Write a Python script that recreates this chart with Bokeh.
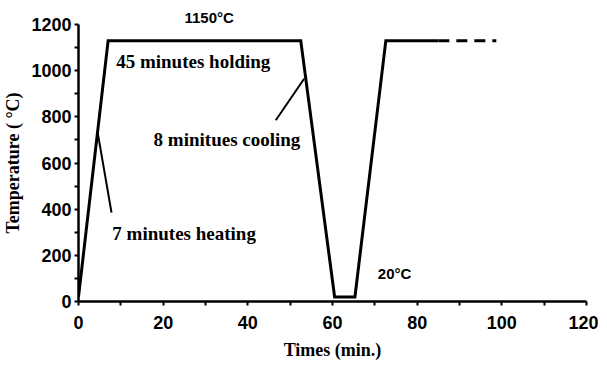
from bokeh.plotting import figure
from bokeh.models import Range1d, Label, FixedTicker, Title
from bokeh.embed import file_html
from bokeh.resources import INLINE

# Thermal cycle profile (time in min, temperature in °C)
time_solid = [0, 7, 52.5, 60.5, 65.3, 72.6, 85]
temp_solid = [20, 1130, 1130, 20, 20, 1130, 1130]
time_dash = [85, 98.7]
temp_dash = [1130, 1130]

# leader lines for annotations
heat_leader_x = [4.5, 7.8]
heat_leader_y = [735, 385]
cool_leader_x = [53.3, 46.6]
cool_leader_y = [965, 785]

x_ticks = [0, 20, 40, 60, 80, 100, 120]
y_ticks = [0, 200, 400, 600, 800, 1000, 1200]

serif = "Liberation Serif"
sans = "Liberation Sans"

p = figure(frame_width=508, frame_height=277,
           min_border_left=70, min_border_top=24, min_border_right=12, min_border_bottom=64,
           x_range=Range1d(0, 120), y_range=Range1d(0, 1200),
           output_backend="svg", toolbar_location=None)

p.outline_line_color = None
p.xgrid.grid_line_color = None
p.ygrid.grid_line_color = None
p.background_fill_color = "white"
p.border_fill_color = "white"

p.line(time_solid, temp_solid, line_color="black", line_width=3, line_join="miter")
p.line(time_dash, temp_dash, line_color="black", line_width=3, line_dash="11 7")
p.line(heat_leader_x, heat_leader_y, line_color="black", line_width=2)
p.line(cool_leader_x, cool_leader_y, line_color="black", line_width=2)

for ax in (p.xaxis[0], p.yaxis[0]):
    ax.axis_line_width = 2.5
    ax.axis_line_color = "black"
    ax.major_tick_line_color = "black"
    ax.minor_tick_line_color = "black"
    ax.major_tick_line_width = 2
    ax.minor_tick_line_width = 2
    ax.major_tick_in = 0
    ax.major_tick_out = 4
    ax.minor_tick_in = 0
    ax.minor_tick_out = 4
    ax.major_label_text_font = sans
    ax.major_label_text_font_style = "bold"
    ax.major_label_text_font_size = "18px"
    ax.major_label_text_color = "black"
    ax.axis_label_text_font = serif
    ax.axis_label_text_font_style = "bold"
    ax.axis_label_text_font_size = "18px"
    ax.axis_label_text_color = "black"

p.xaxis.ticker = FixedTicker(ticks=x_ticks, minor_ticks=[10, 30, 50, 70, 90, 110])
p.yaxis.ticker = FixedTicker(ticks=y_ticks, minor_ticks=[100, 300, 500, 700, 900, 1100])
p.xaxis.axis_label = "Times (min.)"
p.yaxis.axis_label = "Temperature ( °C)"
p.xaxis.major_label_standoff = 10
p.xaxis.axis_label_standoff = 8
p.yaxis.major_label_standoff = 3
p.yaxis.axis_label_standoff = 5

def add_label(x, y, text, font, size, align="left", baseline="alphabetic"):
    p.add_layout(Label(x=x, y=y, text=text, text_font=font, text_font_style="bold",
                       text_font_size=size, text_color="black",
                       text_align=align, text_baseline=baseline))

add_label(8.9, 1040, "45 minutes holding", serif, "19px")
add_label(52.4, 702, "8 minitues cooling", serif, "19px", align="right")
add_label(8.0, 296, "7 minutes heating", serif, "19px")
add_label(70.7, 122, "20°C", sans, "15px", baseline="middle")

# peak temperature label sits above the plotting frame
p.add_layout(Title(text="1150°C", align="left", offset=106, text_font=sans,
                   text_font_style="bold", text_font_size="15px",
                   text_color="black", standoff=-3), "above")

open("out.html", "w").write(file_html(p, INLINE))
